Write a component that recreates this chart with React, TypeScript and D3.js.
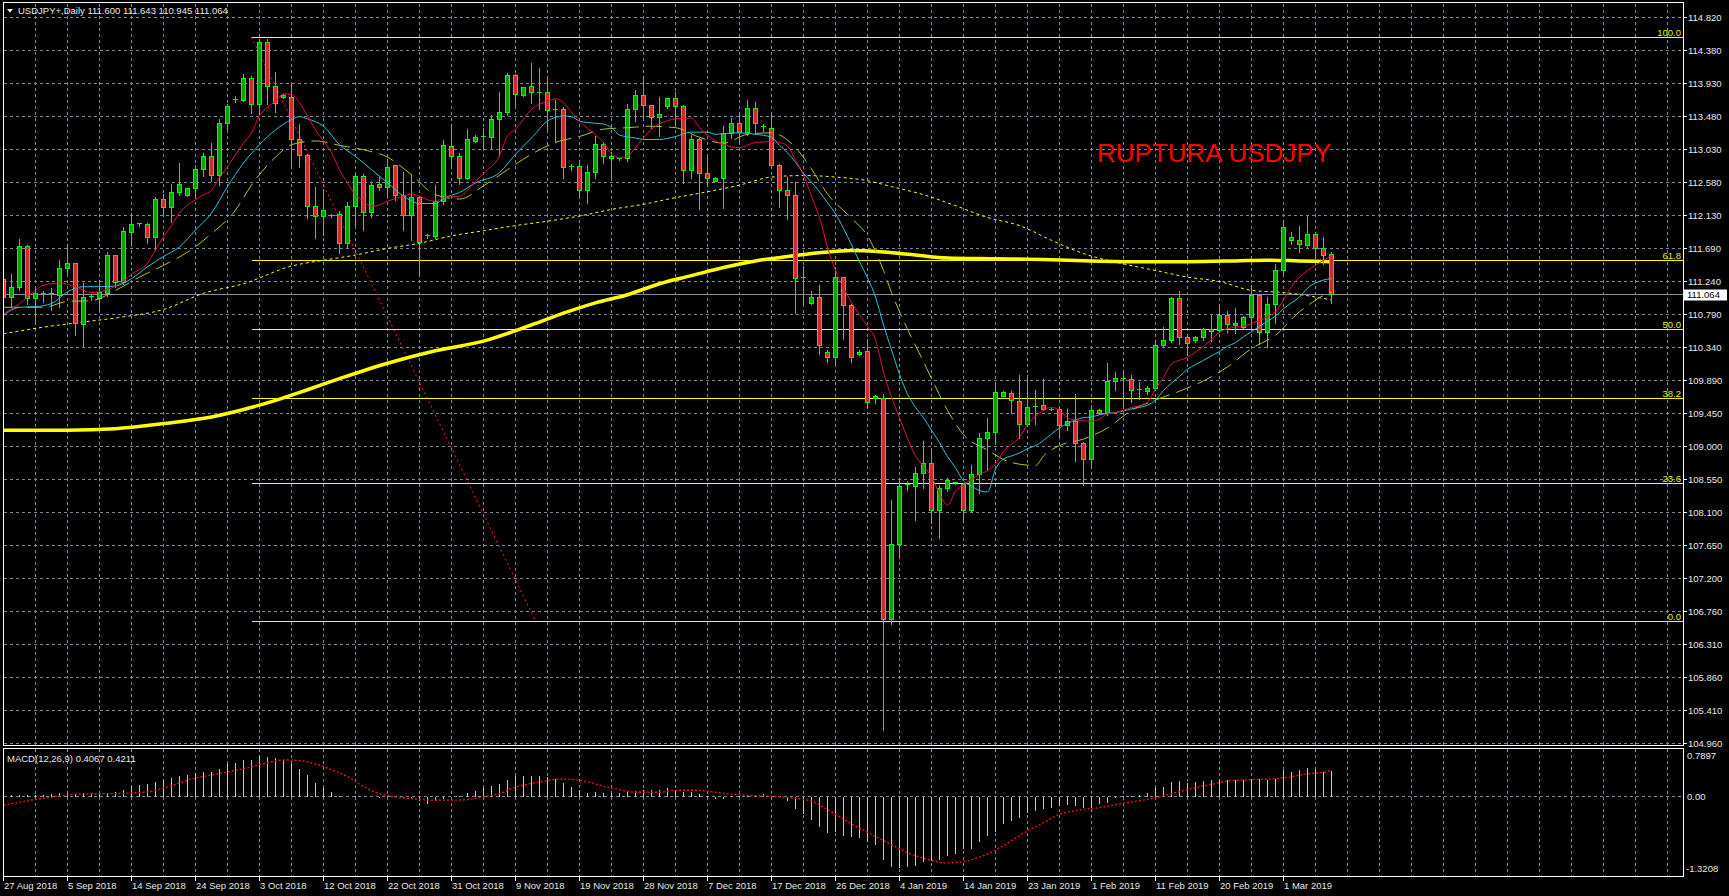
import React, { useEffect } from 'react';
import * as d3 from 'd3';

const W = 1729;
const H = 896;

const dateLabels = ['27 Aug 2018','5 Sep 2018','14 Sep 2018','24 Sep 2018','3 Oct 2018','12 Oct 2018','22 Oct 2018','31 Oct 2018','9 Nov 2018','19 Nov 2018','28 Nov 2018','7 Dec 2018','17 Dec 2018','26 Dec 2018','4 Jan 2019','14 Jan 2019','23 Jan 2019','1 Feb 2019','11 Feb 2019','20 Feb 2019','1 Mar 2019'];
const priceTicks = [114.82,114.38,113.93,113.48,113.03,112.58,112.13,111.69,111.24,110.79,110.34,109.89,109.45,109.0,108.55,108.1,107.65,107.2,106.76,106.31,105.86,105.41,104.96];
const macdTicks = [0.7897, 0, -1.3208];

const opens = [111.27,111.02,111.15,111.71,111.00,111.06,111.06,111.05,111.42,111.48,
110.65,111.02,111.01,111.08,111.59,111.23,111.90,112.01,112.01,111.83,
112.35,112.24,112.45,112.40,112.50,112.76,112.94,112.68,113.39,113.70,
113.70,113.99,113.64,114.48,113.88,113.74,113.74,113.17,112.95,112.25,
112.12,112.13,112.15,111.76,112.26,112.67,112.17,112.55,112.51,112.81,
112.41,112.14,112.38,111.85,111.85,112.33,113.07,112.93,112.64,113.14,
113.21,113.20,113.44,113.53,114.04,113.77,113.88,113.80,113.81,113.57,
113.58,112.80,112.80,112.48,112.72,113.10,112.91,112.89,112.91,113.57,
113.77,113.63,113.46,113.62,113.72,113.62,112.74,113.16,112.71,112.60,
112.63,113.25,113.39,113.26,113.59,113.33,113.32,112.82,112.48,112.41,
111.29,110.94,111.02,110.27,110.20,111.29,110.91,110.24,110.28,109.65,
109.65,106.64,107.66,108.48,108.45,108.63,108.77,108.13,108.42,108.49,
108.48,108.13,108.62,109.10,109.18,109.68,109.71,109.61,109.30,109.53,
109.55,109.50,109.50,109.28,109.34,109.03,108.82,109.48,109.45,109.88,
109.91,109.91,109.76,109.74,109.78,110.37,110.44,111.01,110.47,110.43,
110.48,110.56,110.57,110.78,110.64,110.61,110.75,111.05,110.55,110.93,
111.38,111.80,111.80,111.72,111.87,111.68,111.60];
const highs = [111.34,111.34,111.82,111.74,111.14,111.12,111.16,111.53,111.76,111.50,
111.23,111.07,111.27,111.64,111.61,111.99,112.17,112.03,112.04,112.39,
112.43,112.57,112.86,112.52,112.83,112.99,113.12,113.45,113.66,113.76,
114.06,114.04,114.54,114.54,114.09,113.79,113.93,113.39,112.98,112.53,
112.50,112.16,112.20,112.32,112.70,112.70,112.59,112.66,112.91,112.83,
112.73,112.70,112.41,111.89,112.56,113.16,113.39,112.99,113.32,113.23,
113.33,113.50,113.82,114.08,114.07,113.89,114.21,114.14,114.00,113.71,
113.61,112.84,112.89,112.83,113.22,113.14,113.00,112.92,113.65,113.84,
114.04,113.64,113.75,113.74,113.82,113.64,113.23,113.20,112.93,112.67,
113.35,113.46,113.52,113.71,113.68,113.39,113.52,112.84,112.66,112.59,
111.46,111.11,111.19,110.31,111.44,111.30,110.94,110.31,110.46,109.70,
109.71,108.28,108.58,108.54,108.73,109.08,108.98,108.48,108.58,108.51,
108.51,108.75,109.19,109.39,109.87,109.75,109.75,109.98,109.98,109.77,
109.92,109.52,109.52,109.51,109.72,109.07,109.56,109.51,110.13,110.01,
110.04,109.98,109.88,109.83,110.45,110.63,111.04,111.11,110.50,110.51,
110.61,110.80,110.94,110.84,110.89,110.77,111.20,111.07,111.04,111.48,
112.08,111.91,112.00,112.14,111.89,111.85,111.643];
const lows = [110.91,110.89,111.11,110.93,110.67,110.95,110.84,110.89,111.34,110.50,
110.36,110.98,110.84,111.04,111.16,111.20,111.74,111.99,111.75,111.66,
112.16,112.04,112.41,112.39,112.39,112.66,112.60,112.54,113.29,113.67,
113.68,113.52,113.50,113.64,113.54,113.73,112.79,112.79,112.09,111.82,
111.86,112.10,111.62,111.70,111.98,111.93,112.11,112.48,112.39,112.34,
111.93,111.79,111.32,111.82,111.82,112.29,112.80,112.55,112.62,113.13,
113.05,113.05,112.93,113.49,113.63,113.75,113.66,113.57,113.30,113.12,
112.64,112.74,112.39,112.30,112.64,112.84,112.64,112.88,112.87,113.41,
113.43,113.32,113.21,113.59,113.37,112.57,112.64,112.22,112.55,112.59,
112.23,113.18,113.13,113.22,113.23,113.28,112.78,112.24,112.08,110.80,
110.92,110.92,110.25,110.13,110.11,110.45,110.14,110.23,109.53,109.58,
105.14,106.58,107.48,108.40,107.99,108.42,107.95,107.75,108.38,108.48,
107.96,108.11,108.35,108.67,109.04,109.67,109.45,109.11,109.27,109.29,
109.48,109.48,109.11,109.21,108.79,108.47,108.69,109.43,109.41,109.75,
109.53,109.59,109.64,109.70,109.77,110.34,110.41,110.38,110.23,110.41,
110.44,110.42,110.54,110.54,110.53,110.60,110.61,110.38,110.34,110.66,
111.32,111.74,111.63,111.70,111.58,111.47,110.945];
const closes = [111.02,111.16,111.71,111.01,111.08,111.07,111.07,111.42,111.48,110.66,
111.02,111.04,111.09,111.59,111.23,111.92,112.01,112.02,111.83,112.35,
112.24,112.45,112.55,112.50,112.76,112.94,112.68,113.39,113.62,113.71,
113.99,113.64,114.48,113.88,113.66,113.77,113.17,112.95,112.26,112.12,
112.20,112.14,111.76,112.26,112.66,112.17,112.54,112.51,112.79,112.41,
112.14,112.38,111.77,111.86,112.33,113.08,112.93,112.64,113.17,113.20,
113.21,113.44,113.53,114.04,113.78,113.87,113.80,113.80,113.56,113.58,
112.79,112.80,112.48,112.72,113.10,112.94,112.94,112.91,113.57,113.77,
113.63,113.46,113.50,113.72,113.62,112.74,113.16,112.71,112.63,112.63,
113.25,113.39,113.26,113.59,113.39,113.34,112.82,112.48,112.41,111.28,
111.29,111.02,110.37,110.20,111.29,110.91,110.20,110.27,109.59,109.68,
106.64,107.66,108.45,108.46,108.63,108.77,108.13,108.42,108.53,108.50,
108.13,108.62,109.10,109.18,109.73,109.73,109.62,109.30,109.53,109.54,
109.50,109.50,109.28,109.34,109.03,108.82,109.48,109.44,109.88,109.92,
109.92,109.76,109.77,109.78,110.37,110.44,111.01,110.47,110.39,110.48,
110.59,110.59,110.78,110.65,110.66,110.75,111.05,110.55,110.93,111.38,
111.97,111.83,111.74,111.87,111.68,111.59,111.064];

// moving averages: [bar index, price]
const maRed: [number, number][] = [[0,110.79],[2,110.93],[4,111.11],[5,111.18],[7,111.21],[9,111.16],[11,111.08],[12,111.09],[14,111.17],[15,111.23],[16,111.33],[18,111.48],[19,111.66],[20,111.84],[21,111.99],[22,112.16],[23,112.27],[24,112.34],[25,112.41],[26,112.47],[27,112.64],[28,112.79],[29,112.95],[30,113.11],[31,113.25],[32,113.48],[33,113.60],[34,113.68],[35,113.78],[36,113.77],[37,113.66],[38,113.48],[39,113.29],[40,113.14],[41,112.98],[42,112.75],[43,112.57],[44,112.41],[45,112.32],[46,112.25],[47,112.27],[48,112.32],[49,112.36],[50,112.39],[51,112.42],[52,112.39],[53,112.34],[54,112.32],[55,112.37],[57,112.39],[59,112.59],[60,112.70],[62,112.94],[63,113.21],[64,113.30],[66,113.57],[68,113.68],[69,113.71],[70,113.66],[71,113.53],[72,113.41],[74,113.22],[75,113.12],[76,112.96],[77,112.91],[78,112.93],[79,113.05],[80,113.18],[81,113.30],[82,113.37],[84,113.44],[86,113.45],[87,113.32],[88,113.22],[89,113.14],[90,113.09],[92,113.05],[94,113.12],[96,113.13],[97,113.12],[98,113.07],[99,112.88],[100,112.68],[101,112.39],[102,112.10],[103,111.70],[104,111.38],[105,111.14],[106,110.95],[107,110.78],[108,110.62],[109,110.44],[110,110.00],[111,109.66],[112,109.38],[113,109.10],[114,108.86],[115,108.72],[116,108.58],[117,108.35],[118,108.19],[119,108.38],[120,108.47],[121,108.54],[122,108.61],[123,108.66],[124,108.75],[125,108.92],[126,109.02],[127,109.11],[128,109.29],[129,109.40],[130,109.48],[131,109.52],[132,109.48],[133,109.38],[134,109.35],[135,109.34],[136,109.33],[137,109.36],[138,109.43],[139,109.45],[140,109.48],[141,109.52],[142,109.54],[143,109.59],[144,109.77],[145,109.93],[146,110.11],[147,110.16],[148,110.20],[149,110.27],[150,110.35],[151,110.44],[152,110.54],[153,110.59],[154,110.61],[155,110.62],[156,110.66],[157,110.70],[158,110.75],[159,110.82],[160,110.98],[161,111.16],[162,111.29],[163,111.38],[164,111.45],[165,111.52],[166,111.58]];
const maCyan: [number, number][] = [[0,110.77],[2,110.88],[4,110.89],[6,110.93],[8,111.09],[10,111.16],[12,111.16],[14,111.17],[16,111.27],[18,111.43],[20,111.57],[22,111.70],[24,111.93],[26,112.16],[28,112.52],[30,112.84],[32,113.09],[34,113.29],[36,113.43],[37,113.47],[38,113.44],[40,113.34],[42,113.09],[44,112.93],[46,112.75],[48,112.57],[50,112.39],[52,112.29],[54,112.29],[55,112.36],[57,112.44],[59,112.57],[62,112.71],[64,112.96],[66,113.18],[68,113.41],[69,113.46],[70,113.48],[71,113.47],[72,113.41],[74,113.38],[75,113.37],[76,113.32],[77,113.22],[79,113.18],[80,113.16],[82,113.16],[84,113.20],[86,113.26],[88,113.26],[89,113.23],[90,113.24],[92,113.25],[94,113.23],[96,113.19],[97,113.08],[98,112.98],[99,112.85],[100,112.70],[101,112.58],[102,112.45],[103,112.30],[104,112.15],[105,111.95],[106,111.73],[107,111.50],[108,111.28],[109,111.02],[110,110.64],[111,110.30],[112,109.97],[113,109.70],[114,109.52],[115,109.38],[116,109.21],[117,109.04],[118,108.85],[119,108.70],[120,108.52],[121,108.45],[122,108.39],[123,108.37],[124,108.68],[125,108.82],[126,108.86],[127,108.90],[128,108.96],[129,109.00],[130,109.07],[131,109.16],[132,109.24],[133,109.30],[134,109.35],[135,109.38],[136,109.39],[137,109.42],[138,109.44],[139,109.45],[140,109.47],[141,109.50],[142,109.52],[143,109.55],[144,109.62],[145,109.75],[146,109.85],[147,109.94],[148,110.04],[149,110.10],[150,110.16],[151,110.22],[152,110.28],[153,110.35],[154,110.40],[155,110.48],[156,110.55],[157,110.62],[158,110.69],[159,110.76],[160,110.86],[161,110.94],[162,111.02],[163,111.14],[164,111.21],[165,111.25],[166,111.27]];
const maGreen: [number, number][] = [[0,110.88],[5,110.88],[8,110.96],[11,110.97],[14,111.11],[17,111.29],[20,111.45],[23,111.63],[26,111.88],[29,112.20],[31,112.54],[34,112.92],[36,113.09],[39,113.14],[42,113.08],[45,113.02],[48,112.92],[51,112.68],[54,112.41],[57,112.35],[60,112.53],[63,112.75],[66,112.96],[69,113.12],[72,113.20],[75,113.30],[78,113.32],[81,113.34],[84,113.32],[87,113.19],[90,113.11],[93,113.23],[96,113.25],[99,113.05],[101,112.76],[103,112.42],[106,112.09],[108,111.85],[110,111.38],[111,111.08],[112,110.82],[113.5,110.47],[115,110.14],[116.5,109.80],[118,109.48],[120,109.15],[123,108.94],[126,108.77],[129,108.73],[130,108.86],[132,109.00],[135,109.09],[138,109.24],[141,109.48],[144,109.62],[147,109.74],[150,109.88],[153,110.07],[156,110.32],[159,110.50],[162,110.82],[163,110.90],[165,111.04],[166,111.08]];
const ma100: [number, number][] = [[0,110.52],[5,110.61],[10,110.68],[15,110.75],[20,110.85],[25,111.07],[30,111.20],[36,111.44],[40,111.52],[44,111.59],[48,111.68],[52,111.75],[56,111.85],[60,111.92],[64,111.99],[68,112.05],[72,112.12],[76,112.21],[80,112.28],[84,112.37],[88,112.45],[92,112.54],[96,112.65],[100,112.67],[104,112.65],[108,112.60],[111,112.52],[115,112.41],[119,112.26],[123,112.10],[127,111.99],[131,111.79],[135,111.61],[140,111.47],[144,111.38],[148,111.29],[152,111.23],[156,111.11],[160,111.08],[164,111.02],[166,110.98]];
const ma200: [number, number][] = [[0,109.21],[8,109.21],[14,109.23],[20,109.30],[26,109.39],[32,109.55],[38,109.76],[42,109.91],[48,110.12],[54,110.29],[60,110.42],[66,110.64],[70,110.80],[74,110.94],[78,111.05],[82,111.20],[86,111.31],[90,111.42],[94,111.51],[98,111.57],[102,111.62],[106,111.65],[110,111.63],[114,111.59],[118,111.55],[124,111.54],[130,111.53],[136,111.51],[142,111.50],[148,111.50],[154,111.51],[158,111.52],[162,111.51],[166,111.50]];

const macdMain = [0.01,0.01,0.02,0.01,0.02,0.02,0.03,0.05,0.05,0.03,
0.04,0.03,0.03,0.04,0.06,0.10,0.16,0.185,0.20,0.23,
0.27,0.30,0.33,0.35,0.375,0.40,0.40,0.445,0.53,0.55,
0.59,0.59,0.66,0.64,0.62,0.59,0.53,0.45,0.35,0.22,
0.13,0.07,0.005,-0.01,0.005,-0.02,-0.016,-0.027,-0.005,-0.016,
-0.03,-0.04,-0.087,-0.13,-0.087,-0.05,-0.016,0.005,0.04,0.076,
0.13,0.17,0.196,0.256,0.32,0.32,0.33,0.32,0.31,0.28,
0.21,0.147,0.10,0.05,0.06,0.05,0.04,0.05,0.06,0.076,
0.092,0.10,0.10,0.13,0.092,0.06,0.06,0.03,-0.005,-0.05,
-0.05,0.005,0.005,0.02,0.02,0.03,0.005,-0.016,-0.087,-0.223,
-0.305,-0.397,-0.506,-0.604,-0.593,-0.659,-0.67,-0.70,-0.768,-0.811,
-1.05,-1.165,-1.187,-1.165,-1.149,-1.094,-1.067,-1.05,-0.996,-0.958,
-0.876,-0.876,-0.768,-0.659,-0.593,-0.468,-0.414,-0.359,-0.289,-0.25,
-0.223,-0.196,-0.169,-0.158,-0.169,-0.196,-0.196,-0.14,-0.114,-0.033,
0.005,-0.005,0.02,0.04,0.13,0.147,0.223,0.24,0.21,0.223,
0.24,0.256,0.256,0.256,0.267,0.256,0.278,0.278,0.267,0.278,
0.42,0.40,0.43,0.457,0.44,0.40,0.4067];
const macdSignal: [number, number][] = [[0,-0.152],[4,-0.06],[7,-0.005],[9,0.033],[14,0.038],[16,0.049],[18,0.065],[20,0.13],[22,0.21],[23.5,0.28],[25.4,0.33],[27.3,0.376],[29.3,0.43],[31.2,0.485],[33.1,0.55],[35,0.593],[37,0.582],[39,0.528],[41,0.43],[43,0.32],[44.6,0.185],[46.5,0.06],[48.4,-0.005],[50.3,-0.038],[52.2,-0.06],[54,-0.071],[56,-0.071],[58,-0.06],[60,-0.016],[62,0.038],[63.7,0.13],[65.6,0.196],[67.5,0.24],[69.4,0.278],[71.4,0.267],[73.3,0.223],[75,0.158],[77,0.103],[79,0.06],[82,0.06],[84,0.093],[86.6,0.093],[89,0.06],[91.4,0.022],[93.8,0.005],[96,-0.005],[98.5,-0.033],[101,-0.087],[103.3,-0.25],[105.7,-0.44],[108,-0.60],[110.5,-0.77],[112.9,-0.93],[115.3,-1.04],[117.7,-1.105],[120,-1.083],[122.5,-0.985],[125,-0.82],[127.3,-0.63],[129.6,-0.47],[132,-0.305],[134.4,-0.234],[136.8,-0.196],[139.2,-0.14],[141.6,-0.087],[144,-0.033],[146.4,0.049],[148.8,0.13],[151.2,0.196],[153.6,0.256],[156,0.267],[158.3,0.278],[160.7,0.31],[163.1,0.365],[165.5,0.403],[166,0.4211]];

const fibLevels = [0, 23.6, 38.2, 50, 61.8, 100];
const fibBars = [31, 66.5];
const fibPrices = [114.55, 106.62];

const FONT = '"Liberation Sans", Arial, sans-serif';

export default function App() {
  useEffect(() => {
    document.body.style.margin = '0';
    document.body.style.background = '#000';
  }, []);

  const n = closes.length;
  const left = 3.5, right = 1683.5, pTop = 3.5, pBot = 745.5, mTop = 748.5, mBot = 876.5;
  const x = d3.scaleLinear().domain([0, n - 1]).range([3.5, 3.5 + 8 * (n - 1)]);
  const y = d3.scaleLinear().domain([104.96, 114.82]).range([743, 17.3]);
  const ym = d3.scaleLinear().domain([-1.3208, 0.7897]).range([876, 748]);
  const r = (v: number) => Math.round(v) + 0.5;

  const mkLine = (sy: any) => d3.line<[number, number]>().x(d => x(d[0])).y(d => sy(d[1])).curve(d3.curveMonotoneX);
  const pl = mkLine(y);
  const ml = mkLine(ym);

  const gridX: number[] = [];
  for (let k = 1; 3.5 + 32 * k < right; k++) gridX.push(3.5 + 32 * k);

  const fx1 = x(fibBars[0]), fx2 = x(fibBars[1]);
  const fy = (lvl: number) => fibPrices[1] + (fibPrices[0] - fibPrices[1]) * lvl / 100;
  const lastClose = closes[n - 1];
  const grid = '#778899';
  const fg = '#e8e8e8';

  return (
    <svg width={W} height={H} style={{ display: 'block', background: '#000' }} fontFamily={FONT}>
      <defs>
        <clipPath id="pc"><rect x={left} y={pTop} width={right - left} height={pBot - pTop} /></clipPath>
        <clipPath id="mc"><rect x={left} y={mTop} width={right - left} height={mBot - mTop} /></clipPath>
      </defs>
      <rect x={0} y={0} width={W} height={H} fill="#000" />

      {/* grid */}
      <g stroke={grid} strokeWidth={1} strokeDasharray="3,3" shapeRendering="crispEdges">
        {priceTicks.map(p => <line key={'h' + p} x1={left} x2={right} y1={r(y(p))} y2={r(y(p))} />)}
        {gridX.map(gx => <line key={'v' + gx} x1={gx} x2={gx} y1={pTop} y2={pBot} />)}
        {gridX.map(gx => <line key={'vm' + gx} x1={gx} x2={gx} y1={mTop} y2={mBot} />)}
        <line x1={left} x2={right} y1={r(ym(0))} y2={r(ym(0))} />
      </g>

      <g clipPath="url(#pc)">
        {/* current price line */}
        <line x1={left} x2={right} y1={r(y(lastClose))} y2={r(y(lastClose))} stroke="#8090a0" shapeRendering="crispEdges" />
        {/* fibonacci */}
        <line x1={fx1} y1={y(fibPrices[0])} x2={fx2} y2={y(fibPrices[1])} stroke="#ff2020" strokeDasharray="2,3" />
        {fibLevels.map(l => (
          <line key={'f' + l} x1={fx1} x2={right} y1={r(y(fy(l)))} y2={r(y(fy(l)))} stroke="#ffff00" shapeRendering="crispEdges" />
        ))}
        {/* long MAs */}
        <path d={pl(ma200) || ''} fill="none" stroke="#ffff00" strokeWidth={3.5} />
        <path d={pl(ma100) || ''} fill="none" stroke="#ffff00" strokeWidth={1} strokeDasharray="3,3" />
        {/* candles */}
        {closes.map((c, i) => {
          const o = opens[i];
          const cx = x(i);
          const yo = r(y(o)), yc = r(y(c));
          const top = Math.min(yo, yc), h = Math.abs(yo - yc);
          const up = c >= o;
          return (
            <g key={'c' + i} shapeRendering="crispEdges">
              <line x1={cx} x2={cx} y1={r(y(highs[i]))} y2={r(y(lows[i]))} stroke="#00ff00" />
              {h >= 2 ? (
                <rect x={cx - 2} y={top} width={4} height={h} fill={up ? '#00a800' : '#d02c2c'} stroke="#00ff00" />
              ) : (
                <line x1={cx - 2.5} x2={cx + 2.5} y1={top} y2={top} stroke="#00ff00" />
              )}
            </g>
          );
        })}
        {/* short MAs */}
        <path d={pl(maGreen) || ''} fill="none" stroke="#9acd32" strokeWidth={1} strokeDasharray="16,7" />
        <path d={pl(maCyan) || ''} fill="none" stroke="#2ec4d8" strokeWidth={1} />
        <path d={pl(maRed) || ''} fill="none" stroke="#e0143c" strokeWidth={1} />
      </g>

      {/* fib labels */}
      {fibLevels.map(l => (
        <text key={'fl' + l} x={1681} y={r(y(fy(l))) - 2} fill="#e6f000" fontSize={9.5} textAnchor="end">{l.toFixed(1)}</text>
      ))}

      {/* annotation */}
      <text x={1097} y={162} fill="#ff0000" fontSize={26} fontFamily={FONT}>RUPTURA USDJPY</text>

      {/* MACD */}
      <g clipPath="url(#mc)" shapeRendering="crispEdges">
        {macdMain.map((v, i) => (
          <line key={'m' + i} x1={x(i)} x2={x(i)} y1={r(ym(0))} y2={Math.round(ym(v))} stroke="#c8c8c8" />
        ))}
      </g>
      <path d={ml(macdSignal) || ''} fill="none" stroke="#ff1010" strokeWidth={1.3} strokeDasharray="2,2" clipPath="url(#mc)" />

      {/* frames */}
      <g fill="none" stroke="#ffffff" strokeWidth={1} shapeRendering="crispEdges">
        <rect x={left} y={pTop - 1} width={right - left} height={pBot - pTop + 1} />
        <rect x={left} y={mTop} width={right - left} height={mBot - mTop} />
      </g>

      {/* right price axis */}
      {priceTicks.map(p => (
        <g key={'pt' + p}>
          <line x1={right} x2={right + 3} y1={r(y(p))} y2={r(y(p))} stroke="#fff" shapeRendering="crispEdges" />
          <text x={1688} y={r(y(p)) + 3.5} fill={fg} fontSize={9.5}>{p.toFixed(3)}</text>
        </g>
      ))}
      <rect x={1684} y={r(y(lastClose)) - 5} width={43} height={11} fill="#ffffff" />
      <text x={1687} y={r(y(lastClose)) + 3.5} fill="#000" fontSize={9.5}>{lastClose.toFixed(3)}</text>

      {/* MACD axis */}
      <text x={1687} y={759} fill={fg} fontSize={9.5}>{macdTicks[0].toFixed(4)}</text>
      <text x={1687} y={r(ym(macdTicks[1])) + 3.5} fill={fg} fontSize={9.5}>{macdTicks[1].toFixed(2)}</text>
      <text x={1686} y={872} fill={fg} fontSize={9.5}>{macdTicks[2].toFixed(4)}</text>

      {/* date axis */}
      {dateLabels.map((d, k) => {
        const tx = x(8 * k);
        return (
          <g key={'d' + k}>
            <line x1={tx} x2={tx} y1={mBot} y2={mBot + 4} stroke="#fff" shapeRendering="crispEdges" />
            <text x={tx + 0.5} y={889} fill={fg} fontSize={9.5}>{d}</text>
          </g>
        );
      })}

      {/* titles */}
      <polygon points="7,9 13,9 10,12.5" fill="#ffffff" />
      <text x={18} y={14} fill={fg} fontSize={9.5}>USDJPY+,Daily  111.600 111.643 110.945 111.064</text>
      <text x={7} y={762} fill={fg} fontSize={9.5}>MACD(12,26,9) 0.4067 0.4211</text>
    </svg>
  );
}
